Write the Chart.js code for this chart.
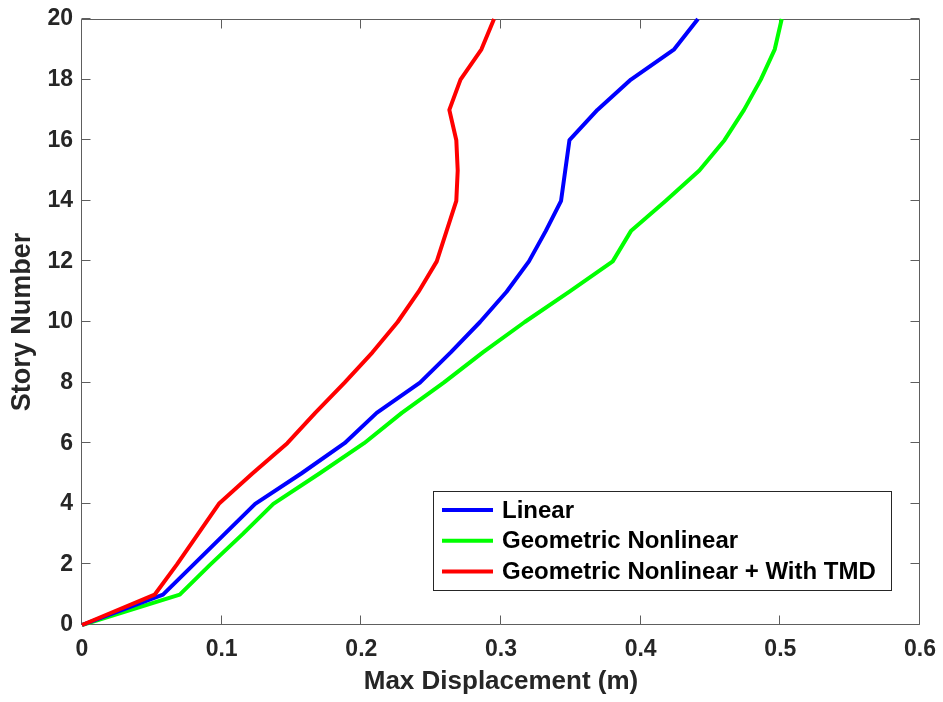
<!DOCTYPE html>
<html><head><meta charset="utf-8">
<script src="https://cdn.jsdelivr.net/npm/chart.js@4/dist/chart.umd.min.js"></script>
<style>html,body{margin:0;padding:0;background:#fff;}#wrap{width:943px;height:702px;}</style>
</head><body><div id="wrap"><canvas id="c" width="943" height="702"></canvas></div>
<script>
const stories = [0,1,2,3,4,5,6,7,8,9,10,11,12,13,14,15,16,17,18,19,20];
const linearDisp = [0,0.058,0.080,0.102,0.124,0.157,0.188,0.211,0.242,0.264,0.285,0.304,0.320,0.332,0.343,0.346,0.349,0.369,0.393,0.424,0.441];
const geoNonlinDisp = [0,0.070,0.092,0.115,0.137,0.170,0.202,0.229,0.259,0.287,0.317,0.349,0.380,0.393,0.418,0.442,0.460,0.474,0.486,0.496,0.501];
const tmdDisp = [0,0.052,0.068,0.083,0.098,0.122,0.147,0.167,0.188,0.208,0.226,0.241,0.254,0.261,0.268,0.269,0.268,0.263,0.271,0.286,0.295];
const seriesLabels = ['Linear','Geometric Nonlinear','Geometric Nonlinear + With TMD'];
const xTickValues = [0,0.1,0.2,0.3,0.4,0.5,0.6];
const xTickLabels = ['0','0.1','0.2','0.3','0.4','0.5','0.6'];
const yTickValues = [0,2,4,6,8,10,12,14,16,18,20];
const yTickLabels = ['0','2','4','6','8','10','12','14','16','18','20'];
const xTitle = 'Max Displacement (m)';
const yTitle = 'Story Number';

const FONT = '"Liberation Sans", Arial, Helvetica, sans-serif';
const AXC = '#262626';

function pts(vals){ return vals.map((v,i)=>({x:v,y:stories[i]})); }

const framePlugin = {
  id:'frame',
  beforeDatasetsDraw(chart){
    const {ctx, chartArea:a, scales:{x,y}} = chart;
    ctx.save();
    ctx.strokeStyle = '#5e5e5e';
    ctx.lineWidth = 1;
    const L = Math.round(a.left)-0.5, R = Math.round(a.right)-0.5, T = Math.round(a.top)+0.5, B = Math.round(a.bottom)-0.5;
    ctx.beginPath();
    ctx.rect(L, T, R-L, B-T);
    const tl = 9;
    xTickValues.forEach(v=>{
      const px = Math.round(x.getPixelForValue(v))-0.5;
      ctx.moveTo(px,B); ctx.lineTo(px,B-tl);
      ctx.moveTo(px,T); ctx.lineTo(px,T+tl);
    });
    yTickValues.forEach(v=>{
      const py = Math.round(y.getPixelForValue(v))-0.5;
      ctx.moveTo(L,py); ctx.lineTo(L+tl,py);
      ctx.moveTo(R,py); ctx.lineTo(R-tl,py);
    });
    ctx.stroke();
    ctx.restore();
  }
};

const legendPlugin = {
  id:'boxLegend',
  afterDraw(chart){
    const {ctx} = chart;
    const bx = 433.5, by = 491.5, bw = 458, bh = 99;
    ctx.save();
    ctx.fillStyle = '#ffffff';
    ctx.fillRect(bx,by,bw,bh);
    ctx.strokeStyle = '#262626';
    ctx.lineWidth = 1;
    ctx.strokeRect(bx,by,bw,bh);
    ctx.font = 'bold 24px ' + FONT;
    ctx.textBaseline = 'middle';
    ctx.textAlign = 'left';
    chart.data.datasets.forEach((ds,i)=>{
      const ry = 510 + i*30.8;
      ctx.strokeStyle = ds.borderColor;
      ctx.lineWidth = 4;
      ctx.beginPath();
      ctx.moveTo(442, ry); ctx.lineTo(493, ry);
      ctx.stroke();
      ctx.fillStyle = '#000000';
      ctx.fillText(ds.label, 502, ry+1);
    });
    ctx.restore();
  }
};

new Chart(document.getElementById('c'), {
  type:'line',
  data:{
    datasets:[
      {label:seriesLabels[0], data:pts(linearDisp), borderColor:'#0000ff', backgroundColor:'#0000ff', order:2},
      {label:seriesLabels[1], data:pts(geoNonlinDisp), borderColor:'#00ff00', backgroundColor:'#00ff00', order:3},
      {label:seriesLabels[2], data:pts(tmdDisp), borderColor:'#ff0000', backgroundColor:'#ff0000', order:1}
    ]
  },
  options:{
    responsive:false,
    animation:false,
    devicePixelRatio:1,
    layout:{padding:{top:19,right:23,left:0,bottom:0}},
    elements:{line:{borderWidth:4, tension:0, borderJoinStyle:'round', borderCapStyle:'butt'}, point:{radius:0, hoverRadius:0}},
    datasets:{line:{clip:false}},
    plugins:{legend:{display:false}, tooltip:{enabled:false}},
    events:[],
    scales:{
      x:{
        type:'linear', min:0, max:0.6,
        afterFit(s){ s.height = 77; s.paddingLeft = 0; s.paddingRight = 0; s.paddingTop = 0; s.paddingBottom = 0; },
        afterBuildTicks(s){ s.ticks = xTickValues.map(v=>({value:v})); },
        grid:{display:false, drawTicks:false},
        border:{display:false},
        ticks:{autoSkip:false, maxRotation:0, padding:11, color:AXC, font:{family:FONT, size:23, weight:'bold'},
          callback:(v)=>{ const i = xTickValues.findIndex(t=>Math.abs(t-v)<1e-9); return i>=0?xTickLabels[i]:''; }},
        title:{display:true, text:xTitle, color:AXC, font:{family:FONT, size:26, weight:'bold'}, padding:{top:5,bottom:5}}
      },
      y:{
        type:'linear', min:0, max:20,
        afterFit(s){ s.width = 82; s.paddingLeft = 0; s.paddingRight = 0; s.paddingTop = 0; s.paddingBottom = 0; },
        afterBuildTicks(s){ s.ticks = yTickValues.map(v=>({value:v})); },
        grid:{display:false, drawTicks:false},
        border:{display:false},
        ticks:{autoSkip:false, padding:9, color:AXC, font:{family:FONT, size:23, weight:'bold'},
          callback:(v)=>{ const i = yTickValues.indexOf(v); return i>=0?yTickLabels[i]:''; }},
        title:{display:true, text:yTitle, color:AXC, font:{family:FONT, size:27, weight:'bold'}, padding:{top:6,bottom:6}}
      }
    }
  },
  plugins:[framePlugin, legendPlugin]
});
</script>
</body></html>
